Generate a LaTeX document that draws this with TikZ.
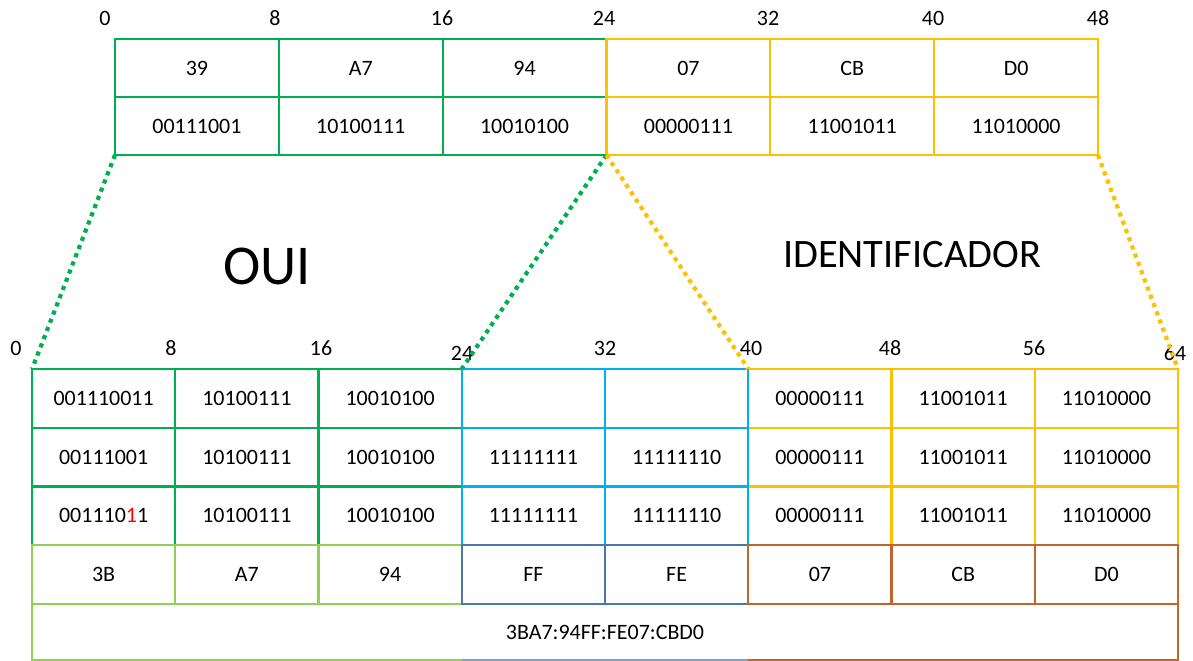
\documentclass[tikz,border=0pt]{standalone}
\usepackage{fontspec}
\setmainfont{Carlito}
\usetikzlibrary{%
  positioning% wg. " of "
}
\definecolor{ouigreen}{HTML}{00B050}
\definecolor{hexgreen}{HTML}{92D050}
\definecolor{fffeblue}{HTML}{00B0F0}
\definecolor{idyellow}{HTML}{FFC000}
\definecolor{fffesteel}{HTML}{4A78AA}
\definecolor{idbrown}{HTML}{C0652E}

\begin{document}
\begin{tikzpicture}
[x=0.02cm, y=-0.02cm, line width=1.2pt,
every node/.style={font=\fontsize{12.5}{14}\selectfont},
topcell/.style={rectangle, inner sep=0pt, outer sep=0pt, minimum width=3.2767cm, minimum height=1.16cm},
botcell/.style={rectangle, inner sep=0pt, outer sep=0pt, minimum width=2.865cm, minimum height=1.175cm},
dotline/.style={line width=2.4pt, dash pattern=on 2.4pt off 2.6pt}]

\useasboundingbox (0,0) rectangle (1193,661);

% obere Tabelle (MAC)
\foreach \i/\h/\b in {1/39/00111001, 2/A7/10100111, 3/94/10010100}
{
	\node[topcell, draw=ouigreen] (hexa\i) at ({115+(\i-0.5)*163.83},68) {\h};
	\node[topcell, draw=ouigreen, below=0pt of hexa\i] (bina\i) {\b};
}
\foreach \i/\h/\b in {4/07/00000111, 5/CB/11001011, 6/D0/11010000}
{
	\node[topcell, draw=idyellow] (hexa\i) at ({115+(\i-0.5)*163.83},68) {\h};
	\node[topcell, draw=idyellow, below=0pt of hexa\i] (bina\i) {\b};
}
\foreach \x/\xtext in {105/0, 275/8, 442/16, 604/24, 768/32, 933/40, 1098/48}
	\node (topbit\xtext) at (\x,18) {\xtext};

% untere Tabelle (EUI-64)
\node[botcell, minimum width=22.92cm, minimum height=1.12cm] (ipv6) at (605,632) {3BA7:94FF:FE07:CBD0};
\foreach \i/\a/\b/\c in {1/001110011/00111001/{001110\textcolor{red}{1}1}, 2/10100111/10100111/10100111, 3/10010100/10010100/10010100}
{
	\node[botcell, draw=ouigreen] (ua\i) at ({32+(\i-0.5)*143.25},398.4) {\a};
	\node[botcell, draw=ouigreen, below=0pt of ua\i] (ub\i) {\b};
	\node[botcell, draw=ouigreen, below=0pt of ub\i] (uc\i) {\c};
}
\foreach \i/\a in {6/00000111, 7/11001011, 8/11010000}
{
	\node[botcell, draw=idyellow] (ua\i) at ({32+(\i-0.5)*143.25},398.4) {\a};
	\node[botcell, draw=idyellow, below=0pt of ua\i] (ub\i) {\a};
	\node[botcell, draw=idyellow, below=0pt of ub\i] (uc\i) {\a};
}
\foreach \i/\b in {4/11111111, 5/11111110}
{
	\node[botcell, draw=fffeblue] (ua\i) at ({32+(\i-0.5)*143.25},398.4) {};
	\node[botcell, draw=fffeblue, below=0pt of ua\i] (ub\i) {\b};
	\node[botcell, draw=fffeblue, below=0pt of ub\i] (uc\i) {\b};
}
\foreach \i/\h in {1/3B, 2/A7, 3/94}
	\node[botcell, draw=hexgreen, below=0pt of uc\i] (hx\i) {\h};
\foreach \i/\h in {4/FF, 5/FE}
	\node[botcell, draw=fffesteel, below=0pt of uc\i] (hx\i) {\h};
\foreach \i/\h in {6/07, 7/CB, 8/D0}
	\node[botcell, draw=idbrown, below=0pt of uc\i] (hx\i) {\h};

\draw[hexgreen] (hx1.south west) -- (hx1.south west |- ipv6.south) -- (hx3.south east |- ipv6.south);
\draw[fffesteel!70] (hx4.south west |- ipv6.south) -- (hx5.south east |- ipv6.south);
\draw[idbrown] (hx6.south west |- ipv6.south) -- (hx8.south east |- ipv6.south) -- (hx8.south east);

\foreach \x/\y/\xtext in {16/348/0, 171/348/8, 321/348/16, 462/353/24, 605/348/32, 751/348/40, 890/348/48, 1034/348/56, 1175/353/64}
	\node (botbit\xtext) at (\x,\y) {\xtext};

% Zuordnung
\draw[dotline, ouigreen] (bina1.south west) -- (ua1.north west);
\draw[dotline, ouigreen] (bina3.south east) -- (ua3.north east);
\draw[dotline, idyellow] (bina4.south west) -- (ua6.north west);
\draw[dotline, idyellow] (bina6.south east) -- (ua8.north east);

\node[font=\fontsize{32}{36}\selectfont] (oui) at (267,266) {OUI};
\node[font=\fontsize{23}{26}\selectfont] (ident) at (912,255) {IDENTIFICADOR};
\end{tikzpicture}
\end{document}
